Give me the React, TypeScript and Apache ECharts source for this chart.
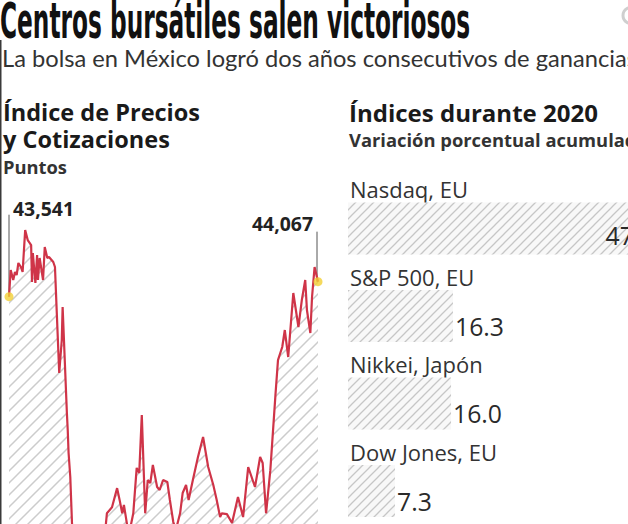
import React, { useEffect, useRef } from 'react';
import * as echarts from 'echarts';

// IPC (Índice de Precios y Cotizaciones) 2020, day of year -> points
const ipcDays = [2, 4, 7, 9, 11, 13, 16, 18, 21, 24, 28, 29, 30, 33, 35, 36, 38, 42, 44, 47, 49, 54, 56, 58, 61, 64, 65, 70, 71, 72, 74, 76, 78, 81, 83, 85, 89, 92, 96, 100, 103, 107, 110, 114, 117, 123, 129, 132, 135, 137, 141, 144, 148, 152, 155, 158, 162, 165, 168, 171, 176, 179, 183, 188, 191, 195, 198, 203, 206, 210, 213, 218, 224, 230, 236, 242, 246, 250, 252, 258, 264, 271, 277, 283, 291, 297, 300, 304, 309, 315, 318, 323, 326, 330, 336, 342, 346, 350, 352, 356, 358, 361, 365];
const ipcValues = [43541, 44476, 44126, 44406, 44300, 44720, 44580, 44405, 45875, 45525, 45350, 44055, 45070, 44020, 45000, 44125, 44895, 44125, 45280, 44895, 44930, 44755, 44580, 43075, 40870, 42025, 43180, 39470, 38875, 38070, 37230, 35620, 34500, 33500, 32960, 33800, 34500, 34300, 35000, 34000, 34800, 35300, 34800, 35000, 35960, 36170, 36840, 36420, 35960, 36250, 35510, 35375, 35960, 37550, 37370, 39400, 35960, 37125, 37020, 37650, 36880, 36775, 37125, 37055, 36425, 35655, 35375, 35960, 36670, 36950, 36425, 37125, 37930, 38630, 37580, 36950, 36425, 35830, 35960, 35930, 35620, 36530, 35830, 37580, 36880, 37930, 37720, 35960, 37470, 40095, 41320, 41780, 42375, 41430, 43670, 42480, 43425, 44125, 43075, 42270, 43530, 44580, 44067];

// Índices durante 2020, variación porcentual acumulada
const indexNames = ['Nasdaq, EU', 'S&P 500, EU', 'Nikkei, Japón', 'Dow Jones, EU'];
const indexChanges = [47.6, 16.3, 16.0, 7.3];

const TITLE = 'Centros bursátiles salen victoriosos';
const SUBTITLE = 'La bolsa en México logró dos años consecutivos de ganancias';

const RED = '#cf3448';
const YELLOW = '#f2cf35';

function makeHatch(size: number, color: string, bg: string | null, lw: number) {
  const c = document.createElement('canvas');
  c.width = size;
  c.height = size;
  const ctx = c.getContext('2d')!;
  if (bg) {
    ctx.fillStyle = bg;
    ctx.fillRect(0, 0, size, size);
  }
  ctx.strokeStyle = color;
  ctx.lineWidth = lw;
  ctx.beginPath();
  ctx.moveTo(-1, size + 1);
  ctx.lineTo(size + 1, -1);
  ctx.moveTo(-2, 2);
  ctx.lineTo(2, -2);
  ctx.moveTo(size - 2, size + 2);
  ctx.lineTo(size + 2, size - 2);
  ctx.stroke();
  return { image: c, repeat: 'repeat', imageWidth: size, imageHeight: size } as any;
}

export default function App() {
  const ref = useRef<HTMLDivElement>(null);
  useEffect(() => {
    if (!ref.current) return;
    const chart = echarts.init(ref.current, undefined, { renderer: 'svg' });
    const mctx = document.createElement('canvas').getContext('2d')!;
    const measure = (t: string, font: string) => {
      mctx.font = font;
      return mctx.measureText(t).width;
    };
    const fit = (t: string, weight: string, family: string, width: number) =>
      (100 * width) / measure(t, `${weight} 100px ${family}`);

    const OS = '"Open Sans", "Noto Sans", sans-serif';
    const LATO = 'Lato, "Open Sans", sans-serif';
    const catSize = fit(indexNames[0], 'normal', OS, 118);
    const valSize = fit('16.3', 'normal', OS, 49);
    const annSize = fit('43,541', 'bold', OS, 61);

    // line grid: first value at y=296.7, 35 points per px, grid runs to the bottom edge
    const ptsPerPx = 35;
    const yMax = 47000;
    const lineTop = 296.7 - (yMax - ipcValues[0]) / ptsPerPx;
    const yMin = ipcValues[0] - (524 - 296.7) * ptsPerPx;

    // bar grid: 6.44 px per percentage point, plot ends at the right edge
    const barLeft = 348;
    const barMax = (628 - barLeft) / 6.44;

    const lineData = ipcDays.map((d, i) => [d, ipcValues[i]]);
    const n = lineData.length;
    const ends = [lineData[0], lineData[n - 1]];

    const option: any = {
      animation: false,
      grid: [
        { left: 9, top: lineTop, width: 309, bottom: 0 },
        { left: barLeft, top: 228.5, right: 0, height: 262.5 },
      ],
      xAxis: [
        { gridIndex: 0, type: 'value', min: 2, max: 365, show: false },
        { gridIndex: 1, type: 'value', min: 0, max: barMax, show: false },
      ],
      yAxis: [
        { gridIndex: 0, type: 'value', min: yMin, max: yMax, show: false },
        {
          gridIndex: 1,
          type: 'category',
          inverse: true,
          boundaryGap: false,
          data: indexNames,
          axisLine: { show: false },
          axisTick: { show: false },
          splitLine: { show: false },
          axisLabel: { show: false },
        },
      ],
      series: [
        {
          type: 'line',
          xAxisIndex: 0,
          yAxisIndex: 0,
          data: lineData,
          symbol: 'none',
          clip: true,
          lineStyle: { color: RED, width: 2.2 },
          areaStyle: { color: makeHatch(12, '#cccccc', null, 1.5), opacity: 1 },
          z: 2,
        },
        {
          type: 'scatter',
          xAxisIndex: 0,
          yAxisIndex: 0,
          data: ends,
          symbolSize: 9,
          itemStyle: { color: YELLOW },
          z: 5,
        },
        {
          type: 'bar',
          xAxisIndex: 1,
          yAxisIndex: 1,
          barWidth: 52,
          clip: false,
          data: indexChanges.map((v, i) =>
            i === 0
              ? { value: v, label: { position: 'insideRight', distance: 0, offset: [0, 7] } }
              : v
          ),
          itemStyle: { color: makeHatch(9, '#c6c6c6', '#f8f8f8', 1.3) },
          label: {
            show: true,
            position: 'right',
            distance: 2,
            offset: [0, 10],
            fontSize: valSize,
            fontFamily: OS,
            color: '#2a2a2a',
            formatter: (p: any) => Number(p.value).toFixed(1),
          },
        },
      ],
    };
    chart.setOption(option);

    const p0 = chart.convertToPixel({ xAxisIndex: 0, yAxisIndex: 0 }, ends[0]) as number[];
    const p1 = chart.convertToPixel({ xAxisIndex: 0, yAxisIndex: 0 }, ends[1]) as number[];
    const fmt = (v: number) => v.toLocaleString('en-US');

    const titleFont = '"Liberation Sans Narrow", "DejaVu Sans Condensed", sans-serif';
    const titleSize = 49;
    const titleW = measure(TITLE, `bold ${titleSize}px ${titleFont}`);
    const titleScale = 470 / titleW;
    const subSize = fit('La bolsa en México logró dos años consecutivos de ganancia', 'normal', LATO, 625);
    const h1Size = fit('Índice de Precios', 'bold', OS, 197);
    const h2Size = fit('Índices durante 2020', 'bold', OS, 249);
    const h3Size = fit('Variación porcentual acumula', 'bold', OS, 276);
    const puntosSize = fit('Puntos', 'bold', OS, 64);

    const txt = (text: string, x: number, y: number, size: number, weight: string, fill: string, family = OS, align = 'left', extra: any = {}, styleExtra: any = {}) => ({
      type: 'text',
      x,
      y,
      ...extra,
      style: {
        text,
        fontSize: size,
        fontWeight: weight,
        fontFamily: family,
        fill,
        textAlign: align,
        textVerticalAlign: 'middle',
        ...styleExtra,
      },
    });

    const catLabels = indexNames.map((name) => {
      const cy = chart.convertToPixel({ yAxisIndex: 1 }, name) as number;
      return txt(name, barLeft + 2, cy - 39, catSize, 'normal', '#333');
    });

    chart.setOption({
      graphic: [
        { type: 'line', shape: { x1: 0.75, y1: 40, x2: 0.75, y2: 524 }, style: { stroke: '#3a3a3a', lineWidth: 1.5 } },
        { type: 'circle', shape: { cx: 631, cy: 15.5, r: 8 }, style: { fill: 'none', stroke: '#cfcfcf', lineWidth: 3 } },
        txt(TITLE, 0, 21, titleSize, 'bold', '#111', titleFont, 'left', { scaleX: titleScale }),
        txt(SUBTITLE, 2, 58, subSize, 'normal', '#333', LATO),
        txt('Índice de Precios\ny Cotizaciones', 3, 125.5, h1Size, 'bold', '#1a1a1a', OS, 'left', {}, { lineHeight: 27 }),
        txt('Puntos', 3, 166, puntosSize, 'bold', '#333'),
        txt('Índices durante 2020', 349, 112, h2Size, 'bold', '#1a1a1a'),
        txt('Variación porcentual acumulada', 349, 139, h3Size, 'bold', '#333'),
        ...catLabels,
        { type: 'line', shape: { x1: p0[0], y1: p0[1] - 82, x2: p0[0], y2: p0[1] }, style: { stroke: '#555', lineWidth: 1 }, z: 1 },
        { type: 'line', shape: { x1: p1[0] - 1, y1: p1[1] - 50, x2: p1[0] - 1, y2: p1[1] }, style: { stroke: '#555', lineWidth: 1 }, z: 1 },
        txt(fmt(ends[0][1]), p0[0] + 4, p0[1] - 88, annSize, 'bold', '#222'),
        txt(fmt(ends[1][1]), p1[0] - 5, p1[1] - 58, annSize, 'bold', '#222', OS, 'right'),
      ],
    });

    return () => chart.dispose();
  }, []);
  return <div ref={ref} style={{ position: 'fixed', left: 0, top: 0, width: 628, height: 524, background: '#fff' }} />;
}
